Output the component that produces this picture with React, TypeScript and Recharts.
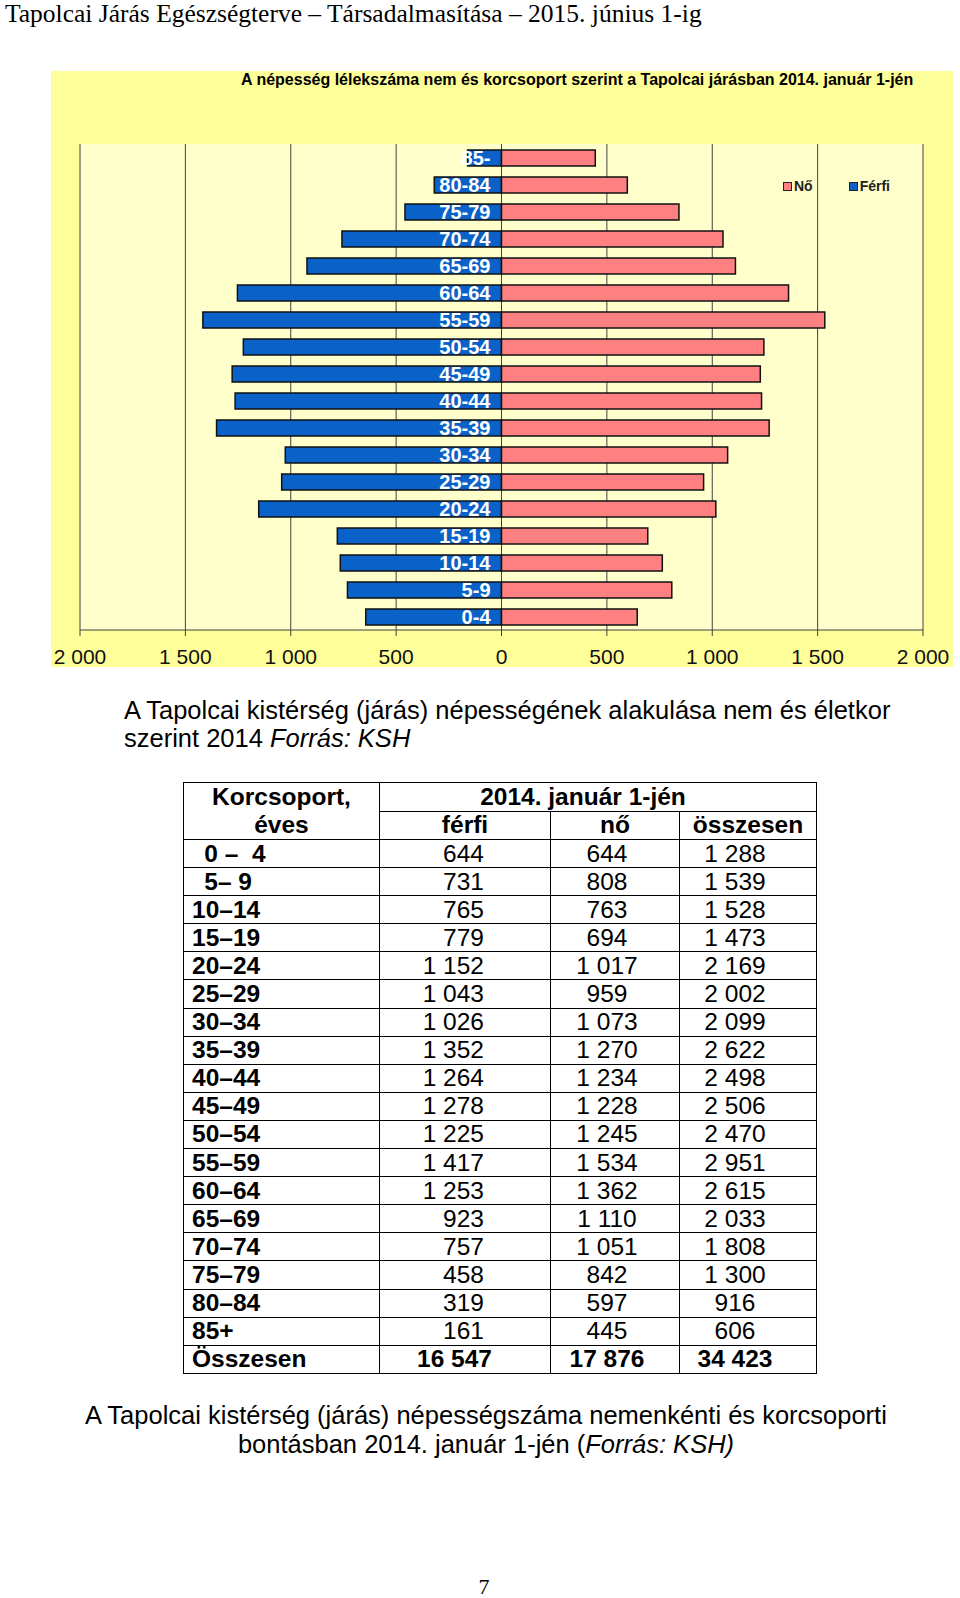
import React from "react";
import { Bar, BarChart, CartesianGrid, LabelList, XAxis, YAxis } from "recharts";

// age groups, youngest first (chart shows them bottom-up)
const ageGroups = ["0-4", "5-9", "10-14", "15-19", "20-24", "25-29", "30-34", "35-39", "40-44", "45-49", "50-54", "55-59", "60-64", "65-69", "70-74", "75-79", "80-84", "85-"];
const tableAgeLabels = ["\u20020 –  4", "\u20025– 9", "10–14", "15–19", "20–24", "25–29", "30–34", "35–39", "40–44", "45–49", "50–54", "55–59", "60–64", "65–69", "70–74", "75–79", "80–84", "85+"];
const maleCounts = [644, 731, 765, 779, 1152, 1043, 1026, 1352, 1264, 1278, 1225, 1417, 1253, 923, 757, 458, 319, 161];
const femaleCounts = [644, 808, 763, 694, 1017, 959, 1073, 1270, 1234, 1228, 1245, 1534, 1362, 1110, 1051, 842, 597, 445];
const totalCounts = [1288, 1539, 1528, 1473, 2169, 2002, 2099, 2622, 2498, 2506, 2470, 2951, 2615, 2033, 1808, 1300, 916, 606];
const grandTotals = [16547, 17876, 34423];
const axisTicks = [-2000, -1500, -1000, -500, 0, 500, 1000, 1500, 2000];

const chartData = ageGroups
  .map((age, i) => ({ age, ferfi: -maleCounts[i], no: femaleCounts[i] }))
  .reverse();

const SANS = '"Liberation Sans", Arial, sans-serif';
const SERIF = '"Liberation Serif", "Times New Roman", serif';
const BLUE = "#0a62c8";
const PINK = "#ff8080";

const fmt = (v: number) => String(Math.abs(v)).replace(/\B(?=(\d{3})+(?!\d))/g, " ");

const AgeLabel = (props: any) => {
  const vb = props.viewBox ?? props;
  const x = Number(vb.x);
  const w = Number(vb.width);
  const y = Number(vb.y);
  const h = Number(vb.height);
  const right = Math.max(x, x + w);
  return (
    <text
      x={right - 11}
      y={y + h / 2 + 7}
      textAnchor="end"
      fill="#ffffff"
      fontSize={20}
      fontWeight="bold"
      fontFamily={SANS}
    >
      {props.value}
    </text>
  );
};

const cell: React.CSSProperties = {
  border: "1.5px solid #000",
  padding: 0,
  height: 27.1,
  lineHeight: "26px",
  whiteSpace: "pre",
};

export default function App() {
  return (
    <div style={{ position: "absolute", left: 0, top: 0, width: 960, height: 1598, background: "#fff", overflow: "hidden" }}>
      <div style={{ position: "absolute", left: 5, top: -1, fontFamily: SERIF, fontSize: 25.5, lineHeight: "30px", color: "#000" }}>
        Tapolcai Járás Egészségterve – Társadalmasítása – 2015. június 1-ig
      </div>

      <div style={{ position: "absolute", left: 51, top: 71, width: 902, height: 596, background: "#ffff99" }}>
        <div style={{ position: "absolute", left: 190, top: 0, fontFamily: SANS, fontWeight: "bold", fontSize: 16, lineHeight: "17px", color: "#000" }}>
          A népesség lélekszáma nem és korcsoport szerint a Tapolcai járásban 2014. január 1-jén
        </div>
        <BarChart
          width={902}
          height={596}
          data={chartData}
          layout="vertical"
          stackOffset="sign"
          barCategoryGap="40%"
          margin={{ top: 73, right: 30, bottom: 0, left: 29 }}
        >
          <CartesianGrid horizontal={false} stroke="#404040" fill="#ffffcc" />
          <XAxis
            type="number"
            domain={[-2000, 2000]}
            ticks={axisTicks}
            interval={0}
            tickFormatter={fmt}
            height={37}
            tickSize={6}
            tickMargin={13}
            tick={{ fontSize: 21, fill: "#111", fontFamily: SANS }}
            tickLine={{ stroke: "#404040" }}
            axisLine={{ stroke: "#404040" }}
          />
          <XAxis
            xAxisId="top"
            orientation="top"
            type="number"
            domain={[-2000, 2000]}
            height={0}
            tick={false}
            tickLine={false}
            axisLine={{ stroke: "#404040" }}
          />
          <YAxis type="category" dataKey="age" hide />
          <Bar dataKey="ferfi" name="Férfi" stackId="s" barSize={16} fill={BLUE} stroke="#111" strokeWidth={1.5} isAnimationActive={false}>
            <LabelList dataKey="age" content={AgeLabel} />
          </Bar>
          <Bar dataKey="no" name="Nő" stackId="s" barSize={16} fill={PINK} stroke="#111" strokeWidth={1.5} isAnimationActive={false} />
        </BarChart>
        <div style={{ position: "absolute", left: 732, top: 107, display: "flex", alignItems: "center", fontFamily: SANS, fontWeight: "bold", fontSize: 14, color: "#222" }}>
          <span style={{ width: 7, height: 7, background: PINK, border: "1px solid #222", marginRight: 2 }} />
          <span style={{ marginRight: 36 }}>Nő</span>
          <span style={{ width: 7, height: 7, background: BLUE, border: "1px solid #222", marginRight: 2 }} />
          <span>Férfi</span>
        </div>
      </div>

      <div style={{ position: "absolute", left: 124, top: 696, fontFamily: SANS, fontSize: 25.5, lineHeight: "28px", color: "#000" }}>
        A Tapolcai kistérség (járás) népességének alakulása nem és életkor
        <br />
        szerint 2014  <i>Forrás: KSH</i>
      </div>

      <table
        style={{
          position: "absolute",
          left: 183,
          top: 782,
          width: 633,
          borderCollapse: "collapse",
          fontFamily: SANS,
          fontSize: 24.5,
          color: "#000",
          tableLayout: "fixed",
        }}
      >
        <colgroup>
          <col style={{ width: 196 }} />
          <col style={{ width: 171 }} />
          <col style={{ width: 129 }} />
          <col style={{ width: 137 }} />
        </colgroup>
        <tbody>
          <tr>
            <td rowSpan={2} style={{ ...cell, fontWeight: "bold", textAlign: "center", lineHeight: "28px" }}>
              Korcsoport,
              <br />
              éves
            </td>
            <td colSpan={3} style={{ ...cell, fontWeight: "bold", textAlign: "center", paddingRight: 30 }}>
              2014. január 1-jén
            </td>
          </tr>
          <tr>
            <td style={{ ...cell, fontWeight: "bold", textAlign: "center" }}>férfi</td>
            <td style={{ ...cell, fontWeight: "bold", textAlign: "center" }}>nő</td>
            <td style={{ ...cell, fontWeight: "bold", textAlign: "center" }}>összesen</td>
          </tr>
          {tableAgeLabels.map((label, i) => (
            <tr key={label}>
              <td style={{ ...cell, fontWeight: "bold", paddingLeft: 8 }}>{label}</td>
              <td style={{ ...cell, textAlign: "right", paddingRight: 66 }}>{fmt(maleCounts[i])}</td>
              <td style={{ ...cell, textAlign: "center", paddingRight: 16 }}>{fmt(femaleCounts[i])}</td>
              <td style={{ ...cell, textAlign: "center", paddingRight: 26 }}>{fmt(totalCounts[i])}</td>
            </tr>
          ))}
          <tr>
            <td style={{ ...cell, fontWeight: "bold", paddingLeft: 8 }}>Összesen</td>
            <td style={{ ...cell, fontWeight: "bold", textAlign: "right", paddingRight: 58 }}>{fmt(grandTotals[0])}</td>
            <td style={{ ...cell, fontWeight: "bold", textAlign: "center", paddingRight: 16 }}>{fmt(grandTotals[1])}</td>
            <td style={{ ...cell, fontWeight: "bold", textAlign: "center", paddingRight: 26 }}>{fmt(grandTotals[2])}</td>
          </tr>
        </tbody>
      </table>

      <div style={{ position: "absolute", left: 0, width: 972, top: 1401, textAlign: "center", fontFamily: SANS, fontSize: 25.5, lineHeight: "29px", color: "#000" }}>
        A Tapolcai kistérség (járás) népességszáma nemenkénti és korcsoporti
        <br />
        bontásban 2014. január 1-jén (<i>Forrás: KSH)</i>
      </div>

      <div style={{ position: "absolute", left: 0, width: 968, top: 1574, textAlign: "center", fontFamily: SERIF, fontSize: 22, lineHeight: "26px", color: "#000" }}>
        7
      </div>
    </div>
  );
}
